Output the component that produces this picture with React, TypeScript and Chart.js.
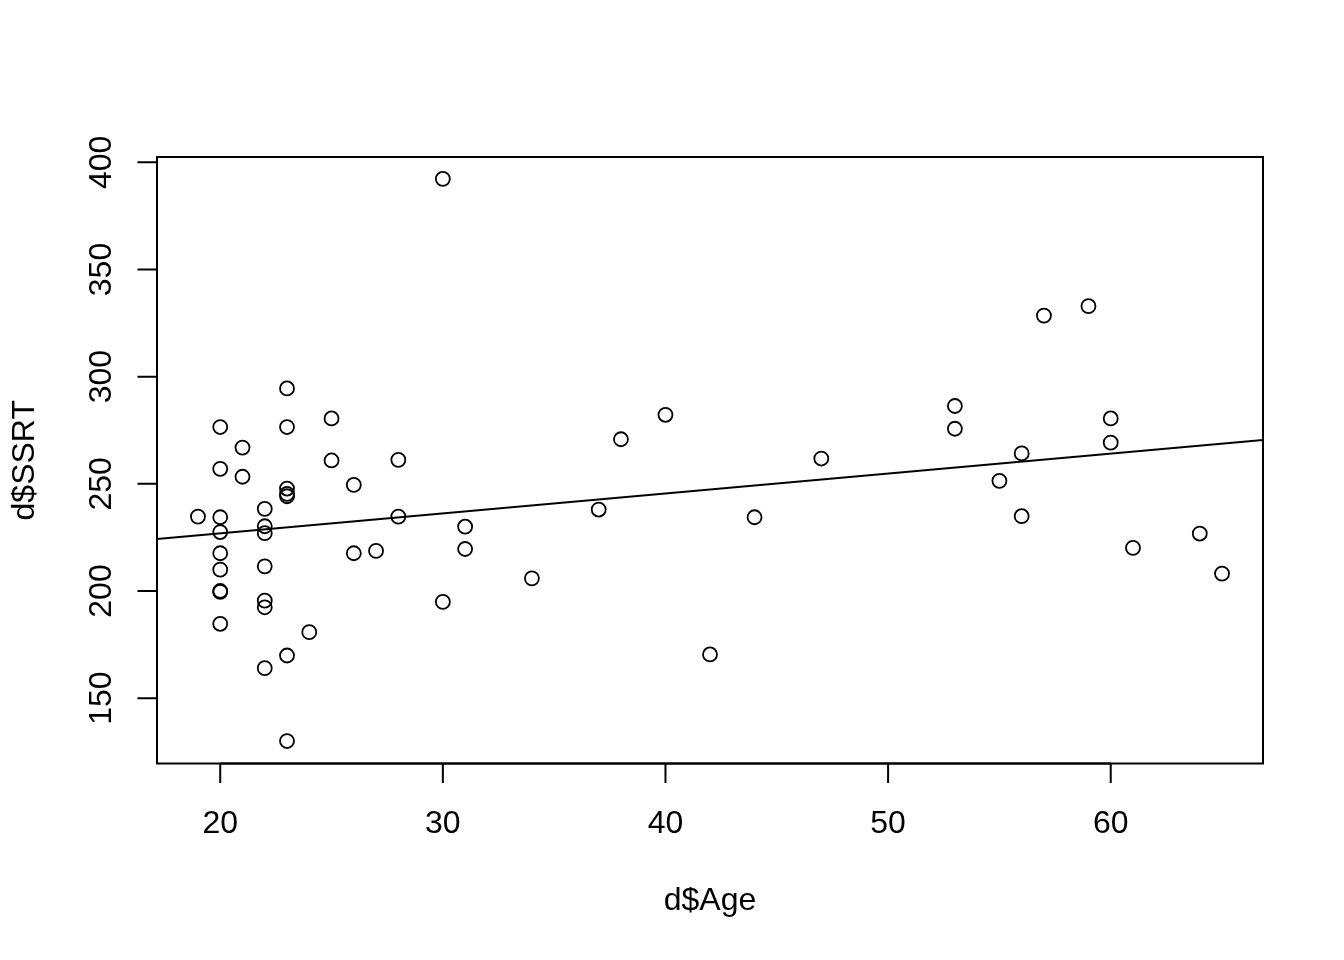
import React, { useEffect, useRef } from "react";
import { Chart, registerables } from "chart.js";

Chart.register(...registerables);

// Age (x) and SSRT (y) observations
const ages: number[] = [
  19,
  20, 20, 20, 20, 20, 20, 20, 20, 20,
  21, 21,
  22, 22, 22, 22, 22, 22, 22,
  23, 23, 23, 23, 23, 23, 23,
  24,
  25, 25,
  26, 26,
  27,
  28, 28,
  30, 30,
  31, 31,
  34, 37, 38, 40, 42, 44, 47,
  53, 53, 55, 56, 56, 57, 59, 60, 60, 61, 64, 65,
];
const ssrt: number[] = [
  234.7,
  276.5, 257.0, 234.4, 227.5, 217.6, 210.0, 200.0, 199.6, 184.7,
  266.9, 253.3,
  238.3, 230.2, 227.0, 211.5, 195.5, 192.4, 164.0,
  294.5, 276.5, 247.8, 245.3, 244.2, 169.9, 130.0,
  180.8,
  280.5, 260.9,
  249.5, 217.6,
  218.7,
  261.2, 234.7,
  392.3, 194.9,
  230.0, 219.6,
  205.9, 238.0, 270.8, 282.2, 170.4, 234.4, 261.8,
  286.3, 275.7, 251.4, 264.2, 234.9, 328.5, 332.9, 280.5, 269.2, 220.1, 226.8, 208.1,
];

// fitted regression line: SSRT = intercept + slope * Age
const fitIntercept = 208.3;
const fitSlope = 0.929;

const xRange: number[] = [17.16, 66.84];
const yRange: number[] = [119.52, 402.48];
const xTicks: number[] = [20, 30, 40, 50, 60];
const yTicks: number[] = [150, 200, 250, 300, 350, 400];
const xTitle = "d$Age";
const yTitle = "d$SSRT";

const FONT = '32px "Liberation Sans", Arial, Helvetica, sans-serif';

const rAxesPlugin = {
  id: "rAxes",
  afterDraw(chart: any) {
    const { ctx, chartArea, scales } = chart;
    const { left, right, top, bottom } = chartArea;
    const xs = scales.x;
    const ys = scales.y;
    const tickLen = 19.5;
    ctx.save();
    ctx.strokeStyle = "#000";
    ctx.fillStyle = "#000";
    ctx.lineWidth = 2;
    // box
    ctx.strokeRect(left, top, right - left, bottom - top);
    // x axis
    ctx.beginPath();
    const x0 = xs.getPixelForValue(xTicks[0]);
    const x1 = xs.getPixelForValue(xTicks[xTicks.length - 1]);
    ctx.moveTo(x0, bottom);
    ctx.lineTo(x1, bottom);
    xTicks.forEach((t) => {
      const px = xs.getPixelForValue(t);
      ctx.moveTo(px, bottom);
      ctx.lineTo(px, bottom + tickLen);
    });
    // y axis
    const y0 = ys.getPixelForValue(yTicks[0]);
    const y1 = ys.getPixelForValue(yTicks[yTicks.length - 1]);
    ctx.moveTo(left, y0);
    ctx.lineTo(left, y1);
    yTicks.forEach((t) => {
      const py = ys.getPixelForValue(t);
      ctx.moveTo(left, py);
      ctx.lineTo(left - tickLen, py);
    });
    ctx.stroke();

    ctx.font = FONT;
    ctx.textBaseline = "alphabetic";
    ctx.textAlign = "center";
    xTicks.forEach((t) => {
      ctx.fillText(String(t), xs.getPixelForValue(t), bottom + 69.5);
    });
    ctx.fillText(xTitle, (left + right) / 2, bottom + 146);

    yTicks.forEach((t) => {
      ctx.save();
      ctx.translate(left - 46, ys.getPixelForValue(t));
      ctx.rotate(-Math.PI / 2);
      ctx.fillText(String(t), 0, 0);
      ctx.restore();
    });
    ctx.save();
    ctx.translate(left - 123, (top + bottom) / 2);
    ctx.rotate(-Math.PI / 2);
    ctx.fillText(yTitle, 0, 0);
    ctx.restore();
    ctx.restore();
  },
};

export default function App() {
  const ref = useRef<HTMLCanvasElement | null>(null);

  useEffect(() => {
    if (!ref.current) return;
    const points = ages.map((a, i) => ({ x: a, y: ssrt[i] }));
    const linePts = xRange.map((x) => ({ x, y: fitIntercept + fitSlope * x }));
    const chart = new Chart(ref.current, {
      type: "scatter",
      data: {
        datasets: [
          {
            type: "scatter",
            label: "SSRT",
            data: points,
            pointStyle: "circle",
            pointRadius: 7,
            pointHoverRadius: 7,
            pointBorderWidth: 1.8,
            borderColor: "#000",
            backgroundColor: "rgba(0,0,0,0)",
          } as any,
          {
            type: "line",
            label: "fit",
            data: linePts,
            borderColor: "#000",
            borderWidth: 2,
            pointRadius: 0,
            fill: false,
          } as any,
        ],
      },
      options: {
        responsive: false,
        animation: false,
        events: [],
        layout: { padding: { left: 157, top: 157, right: 81, bottom: 196.5 } },
        plugins: {
          legend: { display: false },
          tooltip: { enabled: false },
          title: { display: false },
        },
        scales: {
          x: { type: "linear", min: xRange[0], max: xRange[1], display: false },
          y: { type: "linear", min: yRange[0], max: yRange[1], display: false },
        },
      },
      plugins: [rAxesPlugin],
    });
    return () => chart.destroy();
  }, []);

  return (
    <div style={{ position: "absolute", left: 0, top: 0, width: 1344, height: 960, background: "#fff" }}>
      <canvas ref={ref} width={1344} height={960} style={{ display: "block", width: 1344, height: 960 }} />
    </div>
  );
}
